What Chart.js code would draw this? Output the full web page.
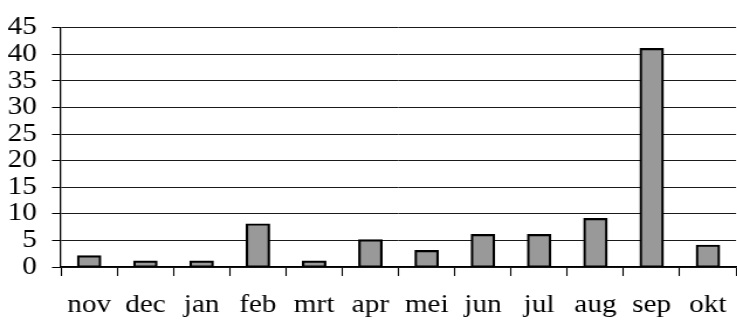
<!DOCTYPE html>
<html>
<head>
<meta charset="utf-8">
<script src="https://cdn.jsdelivr.net/npm/chart.js@4/dist/chart.umd.min.js"></script>
<style>
  html, body { margin: 0; padding: 0; background: #fff; overflow: hidden; }
  #wrap { width: 737px; height: 331px; overflow: hidden; position: relative; }
  /* the canvas is drawn narrower and widened so the serif text gets its broad look */
  #chart { position: absolute; left: 0; top: 0; width: 743px !important; height: 331px !important; }
</style>
</head>
<body>
<div id="wrap"><canvas id="chart" width="635" height="331"></canvas></div>
<script>
const months = ['nov', 'dec', 'jan', 'feb', 'mrt', 'apr', 'mei', 'jun', 'jul', 'aug', 'sep', 'okt'];
const counts = [2, 1, 1, 8, 1, 5, 3, 6, 6, 9, 41, 4];
const yMin = 0;
const yMax = 45;
const yStep = 5;

const sx = 743 / 635; // horizontal widening of the canvas
const font = { family: '"Liberation Serif", "Times New Roman", serif', size: 25 };

new Chart(document.getElementById('chart'), {
  type: 'bar',
  data: {
    labels: months,
    datasets: [{
      data: counts,
      backgroundColor: '#999999',
      borderColor: '#000000',
      borderWidth: 2.2,
      inflateAmount: 1.1,   // outline straddles the bar edge
      borderSkipped: false,
      barPercentage: 0.39,
      categoryPercentage: 1.0
    }]
  },
  options: {
    responsive: false,
    animation: false,
    devicePixelRatio: 1,
    layout: { padding: { top: 23, right: 0, bottom: 0, left: 0 } },
    plugins: { legend: { display: false }, tooltip: { enabled: false } },
    scales: {
      x: {
        offset: true,
        grid: {
          offset: true,
          drawOnChartArea: false,
          drawTicks: true,
          tickLength: 9,
          tickColor: '#000',
          tickWidth: 1.3 / sx
        },
        border: { display: true, color: '#000', width: 1.3 },
        ticks: { color: '#000', font: font, padding: 14, maxRotation: 0, autoSkip: false },
        afterFit: (s) => { s.height = 64; }
      },
      y: {
        min: yMin,
        max: yMax,
        grid: {
          color: '#1a1a1a',
          lineWidth: 1,
          drawTicks: true,
          tickLength: 9 / sx,
          tickColor: '#000'
        },
        border: { display: true, color: '#000', width: 1.5 / sx },
        ticks: { stepSize: yStep, autoSkip: false, color: '#000', font: font, padding: 15 / sx },
        afterFit: (s) => { s.width = 61 / sx; }
      }
    }
  }
});
</script>
</body>
</html>
